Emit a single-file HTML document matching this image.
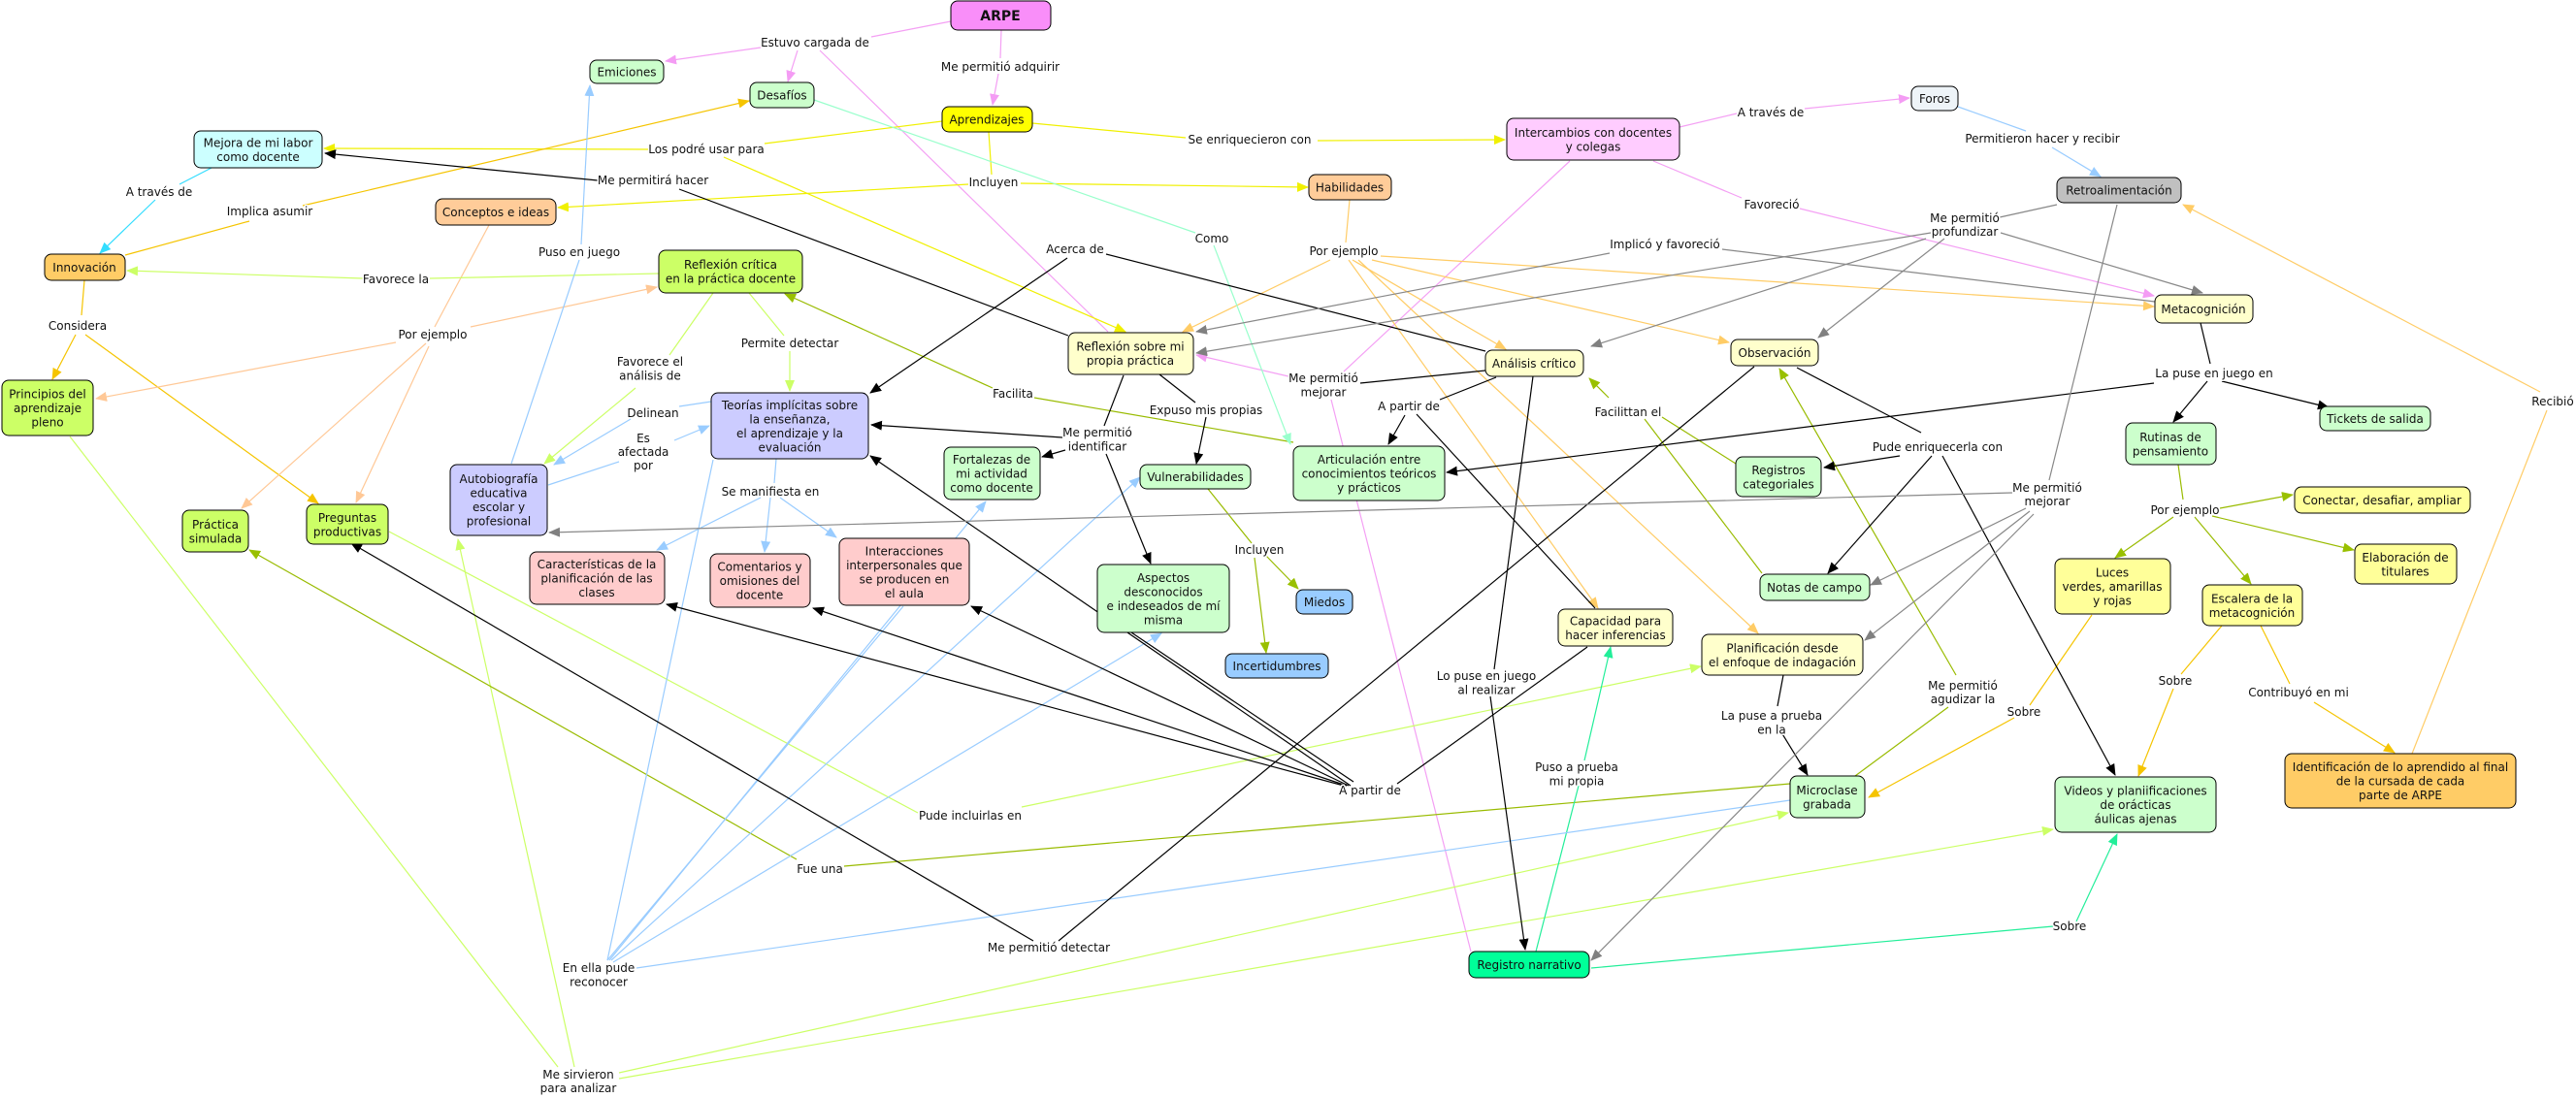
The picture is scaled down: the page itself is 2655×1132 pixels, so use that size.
<!DOCTYPE html>
<html><head><meta charset="utf-8"><style>
html,body{margin:0;padding:0;background:#fff;}
svg{display:block;}
text{font-family:"DejaVu Sans","Liberation Sans",sans-serif;font-size:12px;fill:#111;}
.n text{text-anchor:middle;}
.l{text-anchor:middle;paint-order:stroke;stroke:#fff;stroke-width:3px;stroke-linejoin:round;}
path{fill:none;stroke-width:1.2;}
</style></head><body>
<svg width="2655" height="1132" viewBox="0 0 2655 1132" xmlns="http://www.w3.org/2000/svg">
<defs>
<marker id="k" markerWidth="12" markerHeight="10" refX="11" refY="5" orient="auto" markerUnits="userSpaceOnUse"><path d="M0,0 L12,5 L0,10z" style="fill:#000;stroke:none"/></marker>
<marker id="g" markerWidth="12" markerHeight="10" refX="11" refY="5" orient="auto" markerUnits="userSpaceOnUse"><path d="M0,0 L12,5 L0,10z" style="fill:#808080;stroke:none"/></marker>
<marker id="y" markerWidth="12" markerHeight="10" refX="11" refY="5" orient="auto" markerUnits="userSpaceOnUse"><path d="M0,0 L12,5 L0,10z" style="fill:#f0f000;stroke:none"/></marker>
<marker id="p" markerWidth="12" markerHeight="10" refX="11" refY="5" orient="auto" markerUnits="userSpaceOnUse"><path d="M0,0 L12,5 L0,10z" style="fill:#f49cf4;stroke:none"/></marker>
<marker id="b" markerWidth="12" markerHeight="10" refX="11" refY="5" orient="auto" markerUnits="userSpaceOnUse"><path d="M0,0 L12,5 L0,10z" style="fill:#99ccff;stroke:none"/></marker>
<marker id="c" markerWidth="12" markerHeight="10" refX="11" refY="5" orient="auto" markerUnits="userSpaceOnUse"><path d="M0,0 L12,5 L0,10z" style="fill:#33ddff;stroke:none"/></marker>
<marker id="au" markerWidth="12" markerHeight="10" refX="11" refY="5" orient="auto" markerUnits="userSpaceOnUse"><path d="M0,0 L12,5 L0,10z" style="fill:#f5c400;stroke:none"/></marker>
<marker id="pe" markerWidth="12" markerHeight="10" refX="11" refY="5" orient="auto" markerUnits="userSpaceOnUse"><path d="M0,0 L12,5 L0,10z" style="fill:#ffc896;stroke:none"/></marker>
<marker id="lg" markerWidth="12" markerHeight="10" refX="11" refY="5" orient="auto" markerUnits="userSpaceOnUse"><path d="M0,0 L12,5 L0,10z" style="fill:#ccff66;stroke:none"/></marker>
<marker id="ol" markerWidth="12" markerHeight="10" refX="11" refY="5" orient="auto" markerUnits="userSpaceOnUse"><path d="M0,0 L12,5 L0,10z" style="fill:#99c000;stroke:none"/></marker>
<marker id="t" markerWidth="12" markerHeight="10" refX="11" refY="5" orient="auto" markerUnits="userSpaceOnUse"><path d="M0,0 L12,5 L0,10z" style="fill:#99ffcc;stroke:none"/></marker>
<marker id="s" markerWidth="12" markerHeight="10" refX="11" refY="5" orient="auto" markerUnits="userSpaceOnUse"><path d="M0,0 L12,5 L0,10z" style="fill:#22ee99;stroke:none"/></marker>
<marker id="or" markerWidth="12" markerHeight="10" refX="11" refY="5" orient="auto" markerUnits="userSpaceOnUse"><path d="M0,0 L12,5 L0,10z" style="fill:#ffcc66;stroke:none"/></marker>
</defs>

<!-- pink -->
<g stroke="#f4a0f4">
<path d="M980,22 L898,38"/><path d="M784,49 L686,63" marker-end="url(#p)"/><path d="M822,52 L812,84" marker-end="url(#p)"/><path d="M845,52 L1142,342"/>
<path d="M1032,31 L1031,60"/><path d="M1029,76 L1023,108" marker-end="url(#p)"/>
<path d="M1731,131 L1790,117"/><path d="M1860,112 L1968,101" marker-end="url(#p)"/>
<path d="M1704,166 L1795,204"/><path d="M1855,215 L2220,305" marker-end="url(#p)"/>
<path d="M1618,166 L1385,383"/><path d="M1328,388 L1233,366" marker-end="url(#p)"/><path d="M1372,412 L1516,981"/>
</g>
<!-- yellow -->
<g stroke="#f0f000">
<path d="M971,125 L788,148"/><path d="M669,154 L334,153" marker-end="url(#y)"/><path d="M746,162 L1160,342" marker-end="url(#y)"/>
<path d="M1064,127 L1222,142"/><path d="M1358,145 L1551,144" marker-end="url(#y)"/>
<path d="M1019,136 L1022,180"/><path d="M1052,189 L1348,193" marker-end="url(#y)"/><path d="M998,190 L575,214" marker-end="url(#y)"/>
</g>
<!-- gold -->
<g stroke="#f5c400">
<path d="M129,263 L257,228"/><path d="M312,212 L772,104" marker-end="url(#au)"/>
<path d="M87,289 L84,325"/><path d="M78,345 L54,391" marker-end="url(#au)"/><path d="M88,345 L328,519" marker-end="url(#au)"/>
<path d="M2156,634 L2092,727"/><path d="M2076,740 L1926,822" marker-end="url(#au)"/>
<path d="M2290,645 L2248,695"/><path d="M2240,710 L2204,800" marker-end="url(#au)"/>
<path d="M2330,645 L2360,705"/><path d="M2385,724 L2468,776" marker-end="url(#au)"/>
</g>
<g stroke="#33ddff"><path d="M218,173 L185,190"/><path d="M160,206 L103,261" marker-end="url(#c)"/></g>
<!-- peach -->
<g stroke="#ffc896">
<path d="M504,232 L448,337"/><path d="M485,337 L677,296" marker-end="url(#pe)"/><path d="M408,353 L99,411" marker-end="url(#pe)"/><path d="M439,354 L249,524" marker-end="url(#pe)"/><path d="M442,357 L367,518" marker-end="url(#pe)"/>
</g>
<!-- light green -->
<g stroke="#ccff66">
<path d="M679,282 L443,287"/><path d="M374,287 L131,279" marker-end="url(#lg)"/>
<path d="M735,302 L690,366"/><path d="M655,400 L561,478" marker-end="url(#lg)"/>
<path d="M772,302 L808,346"/><path d="M814,362 L814,403" marker-end="url(#lg)"/>
<path d="M401,548 L946,838"/><path d="M1053,832 L1753,687" marker-end="url(#lg)"/>
<path d="M72,450 L575,1100"/><path d="M592,1100 L472,556" marker-end="url(#lg)"/><path d="M638,1106 L1843,838" marker-end="url(#lg)"/><path d="M638,1112 L2116,855" marker-end="url(#lg)"/>
</g>
<!-- olive -->
<g stroke="#99bb00">
<path d="M1333,456 L1066,410"/><path d="M1023,400 L809,303" marker-end="url(#ol)"/>
<path d="M1845,808 L870,893"/><path d="M821,886 L257,567" marker-end="url(#ol)"/>
<path d="M1789,478 L1713,430"/><path d="M1695,432 L1816,591"/><path d="M1658,410 L1638,390" marker-end="url(#ol)"/>
<path d="M1912,800 L2008,729"/><path d="M2016,696 L1834,380" marker-end="url(#ol)"/>
<path d="M2245,479 L2250,515"/><path d="M2288,524 L2363,510" marker-end="url(#ol)"/><path d="M2280,532 L2426,567" marker-end="url(#ol)"/><path d="M2240,533 L2180,575" marker-end="url(#ol)"/><path d="M2262,533 L2320,602" marker-end="url(#ol)"/>
<path d="M1245,504 L1290,560"/><path d="M1305,573 L1338,607" marker-end="url(#ol)"/><path d="M1293,575 L1305,673" marker-end="url(#ol)"/>
</g>
<!-- light orange -->
<g stroke="#ffcc66">
<path d="M1391,206 L1387,250"/>
<path d="M1371,268 L1219,342" marker-end="url(#or)"/><path d="M1394,268 L1552,360" marker-end="url(#or)"/><path d="M1414,268 L1782,353" marker-end="url(#or)"/><path d="M1423,264 L2220,316" marker-end="url(#or)"/><path d="M1390,268 L1647,627" marker-end="url(#or)"/><path d="M1400,268 L1812,653" marker-end="url(#or)"/>
<path d="M2486,777 L2625,423"/><path d="M2618,404 L2250,211" marker-end="url(#or)"/>
</g>
<g stroke="#99ffcc"><path d="M839,103 L1232,240"/><path d="M1251,253 L1330,458" marker-end="url(#t)"/></g>
<g stroke="#22ee99"><path d="M1583,981 L1627,810"/><path d="M1633,784 L1660,667" marker-end="url(#s)"/><path d="M1640,998 L2116,955"/><path d="M2140,950 L2182,860" marker-end="url(#s)"/></g>
<!-- blue -->
<g stroke="#99ccff">
<path d="M527,478 L597,268"/><path d="M599,252 L608,88" marker-end="url(#b)"/>
<path d="M733,414 L700,419"/><path d="M650,432 L571,479" marker-end="url(#b)"/>
<path d="M565,500 L638,476"/><path d="M695,454 L731,439" marker-end="url(#b)"/>
<path d="M800,473 L798,498"/><path d="M784,513 L677,567" marker-end="url(#b)"/><path d="M794,513 L788,569" marker-end="url(#b)"/><path d="M804,513 L862,554" marker-end="url(#b)"/>
<path d="M2018,110 L2088,135"/><path d="M2115,152 L2165,182" marker-end="url(#b)"/>
<path d="M1845,825 L656,998"/><path d="M626,990 L735,474"/><path d="M626,990 L931,625"/><path d="M628,990 L1016,517" marker-end="url(#b)"/><path d="M630,990 L1175,492" marker-end="url(#b)"/><path d="M632,992 L1197,653" marker-end="url(#b)"/>
</g>
<!-- black -->
<g stroke="#000">
<path d="M1101,346 L700,195"/><path d="M616,186 L335,158" marker-end="url(#k)"/>
<path d="M1531,362 L1140,262"/><path d="M1100,266 L897,405" marker-end="url(#k)"/>
<path d="M1158,387 L1138,439"/><path d="M1095,451 L898,438" marker-end="url(#k)"/><path d="M1098,464 L1074,471" marker-end="url(#k)"/><path d="M1140,468 L1186,581" marker-end="url(#k)"/>
<path d="M1195,386 L1232,415"/><path d="M1243,430 L1233,478" marker-end="url(#k)"/>
<path d="M1542,389 L1484,412"/><path d="M1448,428 L1431,458" marker-end="url(#k)"/>
<path d="M1531,382 L1402,395"/><path d="M1460,427 L1644,627"/>
<path d="M1580,388 L1540,690"/><path d="M1536,718 L1572,979" marker-end="url(#k)"/>
<path d="M1808,378 L1091,970"/><path d="M1065,970 L362,560" marker-end="url(#k)"/>
<path d="M1636,667 L1440,808"/><path d="M1385,810 L687,623" marker-end="url(#k)"/><path d="M1388,810 L838,627" marker-end="url(#k)"/><path d="M1390,810 L1001,625" marker-end="url(#k)"/><path d="M1392,810 L897,470" marker-end="url(#k)"/><path d="M1395,806 L1166,652"/>
<path d="M2268,333 L2278,375"/><path d="M2275,393 L2240,435" marker-end="url(#k)"/><path d="M2290,393 L2400,420" marker-end="url(#k)"/><path d="M2220,395 L1491,487" marker-end="url(#k)"/>
<path d="M1852,379 L1980,446"/><path d="M1958,470 L1880,482" marker-end="url(#k)"/><path d="M1991,470 L1884,591" marker-end="url(#k)"/><path d="M2002,470 L2180,799" marker-end="url(#k)"/>
<path d="M1838,696 L1832,728"/><path d="M1836,755 L1863,799" marker-end="url(#k)"/>
</g>
<!-- gray -->
<g stroke="#888">
<path d="M2221,311 L1775,257"/><path d="M1659,261 L1233,342" marker-end="url(#g)"/>
<path d="M2120,211 L2061,224"/><path d="M1990,240 L1233,364" marker-end="url(#g)"/><path d="M1985,246 L1640,357" marker-end="url(#g)"/><path d="M2004,246 L1874,348" marker-end="url(#g)"/><path d="M2062,240 L2270,302" marker-end="url(#g)"/>
<path d="M2182,211 L2112,495"/><path d="M2074,508 L566,549" marker-end="url(#g)"/><path d="M2088,524 L1928,603" marker-end="url(#g)"/><path d="M2092,527 L1922,660" marker-end="url(#g)"/><path d="M2096,530 L1640,990" marker-end="url(#g)"/>
</g>

<!-- nodes -->
<g class="n" stroke="#000" stroke-width="1">
<rect x="980" y="1" width="103" height="30" rx="7" fill="#f98ef9"/>
<rect x="608" y="62" width="76" height="24" rx="7" fill="#ccffcc"/>
<rect x="773" y="85" width="66" height="26" rx="7" fill="#ccffcc"/>
<rect x="971" y="110" width="93" height="26" rx="7" fill="#ffff00"/>
<rect x="1553" y="122" width="178" height="43" rx="7" fill="#ffccff"/>
<rect x="1970" y="89" width="48" height="25" rx="7" fill="#eef4f8"/>
<rect x="2120" y="183" width="128" height="26" rx="7" fill="#c0c0c0"/>
<rect x="200" y="135" width="132" height="38" rx="7" fill="#ccffff"/>
<rect x="449" y="205" width="124" height="27" rx="7" fill="#ffcc99"/>
<rect x="1349" y="180" width="85" height="26" rx="7" fill="#ffcc99"/>
<rect x="46" y="262" width="83" height="27" rx="7" fill="#ffcc66"/>
<rect x="679" y="258" width="148" height="44" rx="7" fill="#ccff66"/>
<rect x="2221" y="304" width="101" height="29" rx="7" fill="#ffffcc"/>
<rect x="2" y="392" width="94" height="57" rx="7" fill="#ccff66"/>
<rect x="1101" y="343" width="129" height="43" rx="7" fill="#ffffcc"/>
<rect x="1531" y="361" width="101" height="27" rx="7" fill="#ffffcc"/>
<rect x="1784" y="350" width="90" height="27" rx="7" fill="#ffffcc"/>
<rect x="733" y="405" width="162" height="68" rx="7" fill="#ccccff"/>
<rect x="973" y="461" width="99" height="54" rx="7" fill="#ccffcc"/>
<rect x="1175" y="479" width="114" height="25" rx="7" fill="#ccffcc"/>
<rect x="1333" y="460" width="156" height="56" rx="7" fill="#ccffcc"/>
<rect x="1789" y="471" width="88" height="41" rx="7" fill="#ccffcc"/>
<rect x="2191" y="436" width="93" height="43" rx="7" fill="#ccffcc"/>
<rect x="2391" y="419" width="114" height="25" rx="7" fill="#ccffcc"/>
<rect x="464" y="479" width="100" height="73" rx="7" fill="#ccccff"/>
<rect x="188" y="526" width="68" height="43" rx="7" fill="#ccff66"/>
<rect x="316" y="520" width="84" height="41" rx="7" fill="#ccff66"/>
<rect x="546" y="569" width="139" height="54" rx="7" fill="#ffcccc"/>
<rect x="732" y="571" width="103" height="55" rx="7" fill="#ffcccc"/>
<rect x="865" y="555" width="134" height="69" rx="7" fill="#ffcccc"/>
<rect x="1131" y="582" width="136" height="70" rx="7" fill="#ccffcc"/>
<rect x="1336" y="608" width="58" height="25" rx="7" fill="#99ccff"/>
<rect x="1263" y="674" width="106" height="25" rx="7" fill="#99ccff"/>
<rect x="1814" y="592" width="113" height="27" rx="7" fill="#ccffcc"/>
<rect x="2365" y="502" width="181" height="27" rx="7" fill="#ffff99"/>
<rect x="2427" y="561" width="105" height="41" rx="7" fill="#ffff99"/>
<rect x="2118" y="576" width="119" height="57" rx="7" fill="#ffff99"/>
<rect x="2270" y="603" width="103" height="42" rx="7" fill="#ffff99"/>
<rect x="1606" y="628" width="118" height="38" rx="7" fill="#ffffcc"/>
<rect x="1754" y="654" width="166" height="42" rx="7" fill="#ffffcc"/>
<rect x="1845" y="800" width="77" height="43" rx="7" fill="#ccffcc"/>
<rect x="2118" y="801" width="166" height="57" rx="7" fill="#ccffcc"/>
<rect x="2355" y="777" width="238" height="56" rx="7" fill="#ffcc66"/>
<rect x="1514" y="981" width="124" height="27" rx="7" fill="#00ff99"/>
</g>
<g class="n">
<text x="1031" y="21" style="font-weight:bold;font-size:14px">ARPE</text>
<text x="646" y="78.5">Emiciones</text>
<text x="806" y="102.5">Desafíos</text>
<text x="1017" y="127.5">Aprendizajes</text>
<text x="1642" y="141">Intercambios con docentes<tspan x="1642" dy="14.5">y colegas</tspan></text>
<text x="1994" y="106">Foros</text>
<text x="2184" y="200.5">Retroalimentación</text>
<text x="266" y="151.5">Mejora de mi labor<tspan x="266" dy="14.5">como docente</tspan></text>
<text x="511" y="223">Conceptos e ideas</text>
<text x="1391" y="197.5">Habilidades</text>
<text x="87" y="280">Innovación</text>
<text x="753" y="277">Reflexión crítica<tspan x="753" dy="14.5">en la práctica docente</tspan></text>
<text x="2271" y="323">Metacognición</text>
<text x="49" y="410.5">Principios del<tspan x="49" dy="14.5">aprendizaje</tspan><tspan x="49" dy="14.5">pleno</tspan></text>
<text x="1165" y="361.5">Reflexión sobre mi<tspan x="1165" dy="14.5">propia práctica</tspan></text>
<text x="1581" y="379">Análisis crítico</text>
<text x="1829" y="368">Observación</text>
<text x="814" y="422">Teorías implícitas sobre<tspan x="814" dy="14.5">la enseñanza,</tspan><tspan x="814" dy="14.5">el aprendizaje y la</tspan><tspan x="814" dy="14.5">evaluación</tspan></text>
<text x="1022" y="478">Fortalezas de<tspan x="1022" dy="14.5">mi actividad</tspan><tspan x="1022" dy="14.5">como docente</tspan></text>
<text x="1232" y="496">Vulnerabilidades</text>
<text x="1411" y="478">Articulación entre<tspan x="1411" dy="14.5">conocimientos teóricos</tspan><tspan x="1411" dy="14.5">y prácticos</tspan></text>
<text x="1833" y="489">Registros<tspan x="1833" dy="14.5">categoriales</tspan></text>
<text x="2237" y="455">Rutinas de<tspan x="2237" dy="14.5">pensamiento</tspan></text>
<text x="2448" y="436">Tickets de salida</text>
<text x="514" y="498">Autobiografía<tspan x="514" dy="14.5">educativa</tspan><tspan x="514" dy="14.5">escolar y</tspan><tspan x="514" dy="14.5">profesional</tspan></text>
<text x="222" y="545">Práctica<tspan x="222" dy="14.5">simulada</tspan></text>
<text x="358" y="538">Preguntas<tspan x="358" dy="14.5">productivas</tspan></text>
<text x="615" y="586">Características de la<tspan x="615" dy="14.5">planificación de las</tspan><tspan x="615" dy="14.5">clases</tspan></text>
<text x="783" y="588.5">Comentarios y<tspan x="783" dy="14.5">omisiones del</tspan><tspan x="783" dy="14.5">docente</tspan></text>
<text x="932" y="572.5">Interacciones<tspan x="932" dy="14.5">interpersonales que</tspan><tspan x="932" dy="14.5">se producen en</tspan><tspan x="932" dy="14.5">el aula</tspan></text>
<text x="1199" y="600">Aspectos<tspan x="1199" dy="14.5">desconocidos</tspan><tspan x="1199" dy="14.5">e indeseados de mí</tspan><tspan x="1199" dy="14.5">misma</tspan></text>
<text x="1365" y="625">Miedos</text>
<text x="1316" y="691">Incertidumbres</text>
<text x="1870" y="610">Notas de campo</text>
<text x="2455" y="520">Conectar, desafiar, ampliar</text>
<text x="2479" y="579">Elaboración de<tspan x="2479" dy="14.5">titulares</tspan></text>
<text x="2177" y="594.5">Luces<tspan x="2177" dy="14.5">verdes, amarillas</tspan><tspan x="2177" dy="14.5">y rojas</tspan></text>
<text x="2321" y="621.5">Escalera de la<tspan x="2321" dy="14.5">metacognición</tspan></text>
<text x="1665" y="644.5">Capacidad para<tspan x="1665" dy="14.5">hacer inferencias</tspan></text>
<text x="1837" y="672.5">Planificación desde<tspan x="1837" dy="14.5">el enfoque de indagación</tspan></text>
<text x="1883" y="819">Microclase<tspan x="1883" dy="14.5">grabada</tspan></text>
<text x="2201" y="819.5">Videos y planiificaciones<tspan x="2201" dy="14.5">de orácticas</tspan><tspan x="2201" dy="14.5">áulicas ajenas</tspan></text>
<text x="2474" y="795">Identificación de lo aprendido al final<tspan x="2474" dy="14.5">de la cursada de cada</tspan><tspan x="2474" dy="14.5">parte de ARPE</tspan></text>
<text x="1576" y="999">Registro narrativo</text>
</g>

<!-- link labels -->
<g>
<text class="l" x="840" y="48">Estuvo cargada de</text>
<text class="l" x="1031" y="73">Me permitió adquirir</text>
<text class="l" x="1288" y="148">Se enriquecieron con</text>
<text class="l" x="1825" y="120">A través de</text>
<text class="l" x="2105" y="147">Permitieron hacer y recibir</text>
<text class="l" x="728" y="158">Los podré usar para</text>
<text class="l" x="673" y="190">Me permitirá hacer</text>
<text class="l" x="1024" y="192">Incluyen</text>
<text class="l" x="164" y="202">A través de</text>
<text class="l" x="278" y="222">Implica asumir</text>
<text class="l" x="1826" y="215">Favoreció</text>
<text class="l" x="2025" y="229">Me permitió<tspan x="2025" dy="14">profundizar</tspan></text>
<text class="l" x="597" y="264">Puso en juego</text>
<text class="l" x="1249" y="250">Como</text>
<text class="l" x="1108" y="261">Acerca de</text>
<text class="l" x="1385" y="263">Por ejemplo</text>
<text class="l" x="1716" y="256">Implicó y favoreció</text>
<text class="l" x="408" y="292">Favorece la</text>
<text class="l" x="80" y="340">Considera</text>
<text class="l" x="446" y="349">Por ejemplo</text>
<text class="l" x="814" y="358">Permite detectar</text>
<text class="l" x="670" y="377">Favorece el<tspan x="670" dy="14.5">análisis de</tspan></text>
<text class="l" x="1364" y="394">Me permitió<tspan x="1364" dy="14.5">mejorar</tspan></text>
<text class="l" x="1452" y="423">A partir de</text>
<text class="l" x="1044" y="410">Facilita</text>
<text class="l" x="673" y="430">Delinean</text>
<text class="l" x="1243" y="427">Expuso mis propias</text>
<text class="l" x="1678" y="429">Facilittan el</text>
<text class="l" x="2282" y="389">La puse en juego en</text>
<text class="l" x="2631" y="418">Recibió</text>
<text class="l" x="663" y="456">Es<tspan x="663" dy="14">afectada</tspan><tspan x="663" dy="14">por</tspan></text>
<text class="l" x="1131" y="450">Me permitió<tspan x="1131" dy="14.5">identificar</tspan></text>
<text class="l" x="1997" y="465">Pude enriquecerla con</text>
<text class="l" x="794" y="511">Se manifiesta en</text>
<text class="l" x="2110" y="507">Me permitió<tspan x="2110" dy="14">mejorar</tspan></text>
<text class="l" x="1298" y="571">Incluyen</text>
<text class="l" x="2252" y="530">Por ejemplo</text>
<text class="l" x="1532" y="701">Lo puse en juego<tspan x="1532" dy="14.5">al realizar</tspan></text>
<text class="l" x="1826" y="742">La puse a prueba<tspan x="1826" dy="14.5">en la</tspan></text>
<text class="l" x="2023" y="711">Me permitió<tspan x="2023" dy="14">agudizar la</tspan></text>
<text class="l" x="2086" y="738">Sobre</text>
<text class="l" x="2242" y="706">Sobre</text>
<text class="l" x="2369" y="718">Contribuyó en mi</text>
<text class="l" x="1625" y="795">Puso a prueba<tspan x="1625" dy="14.5">mi propia</tspan></text>
<text class="l" x="1412" y="819">A partir de</text>
<text class="l" x="1000" y="845">Pude incluirlas en</text>
<text class="l" x="845" y="900">Fue una</text>
<text class="l" x="1081" y="981">Me permitió detectar</text>
<text class="l" x="617" y="1002">En ella pude<tspan x="617" dy="14.5">reconocer</tspan></text>
<text class="l" x="2133" y="959">Sobre</text>
<text class="l" x="596" y="1112">Me sirvieron<tspan x="596" dy="14">para analizar</tspan></text>
</g>
</svg>
</body></html>
